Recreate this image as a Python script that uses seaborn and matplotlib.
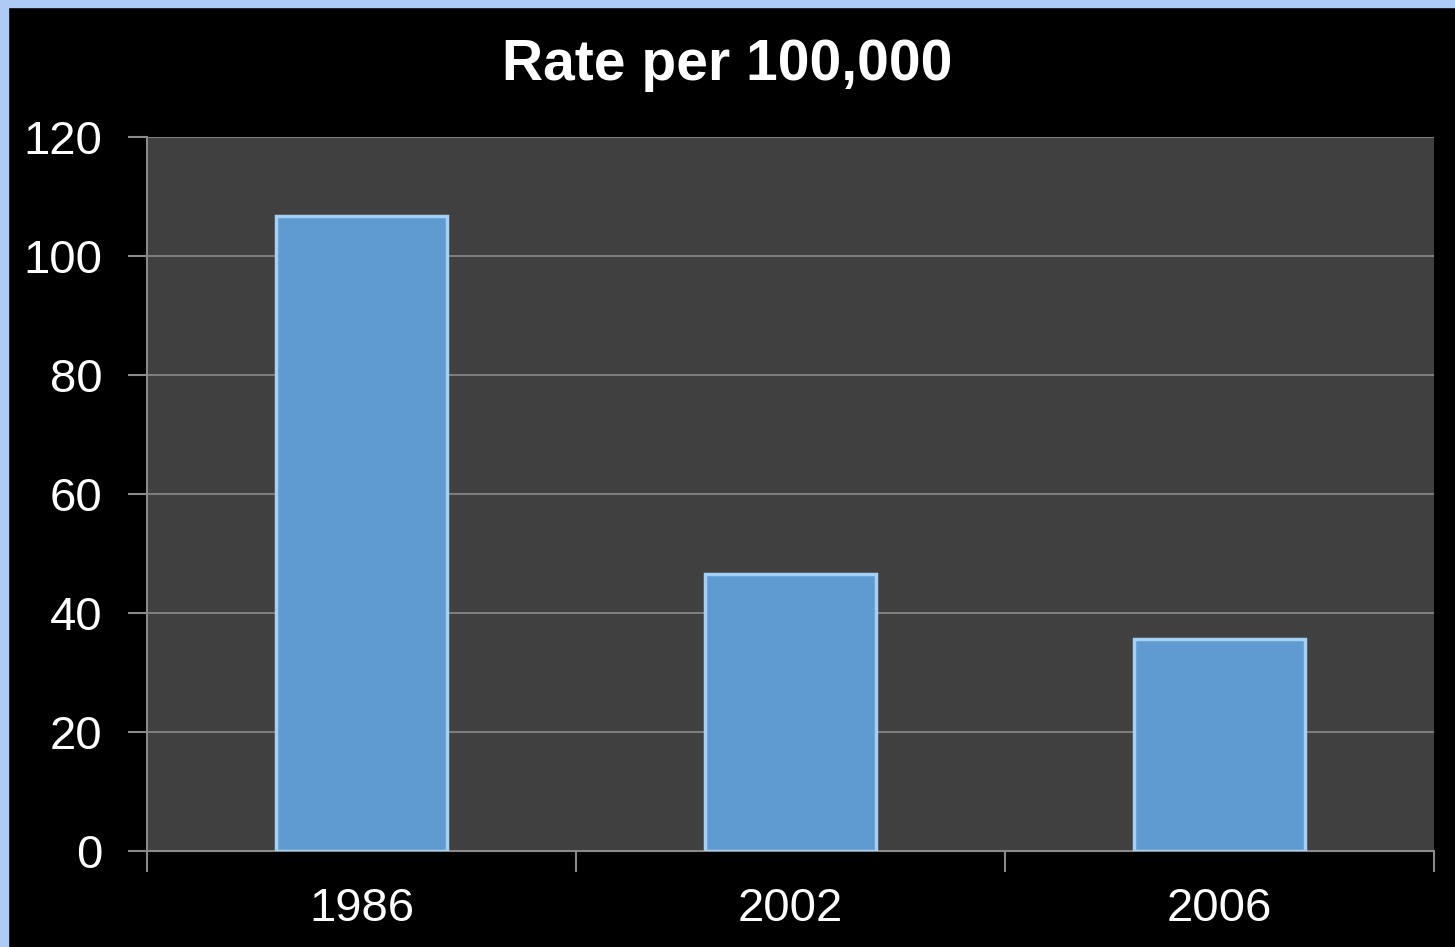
import matplotlib
matplotlib.use("Agg")
import matplotlib.pyplot as plt
import pandas as pd
import seaborn as sns
from matplotlib.patches import Rectangle

years = ["1986", "2002", "2006"]
rates = [106.8, 46.5, 35.6]
y_ticks = [0, 20, 40, 60, 80, 100, 120]

sns.set_style("dark")
plt.rcParams["font.family"] = ["Liberation Sans", "DejaVu Sans"]

df = pd.DataFrame({"year": years, "rate": rates})

fig = plt.figure(figsize=(14.55, 9.47), dpi=100, facecolor="black")
# light blue frame strips on top and left
fig.patches.append(Rectangle((0, 0), 0.0055, 1, transform=fig.transFigure, color="#AECBF5", zorder=0))
fig.patches.append(Rectangle((0, 0.9926), 1, 0.0074, transform=fig.transFigure, color="#AECBF5", zorder=0))

ax = fig.add_axes([0.101, 0.1014, 0.8845, 0.7539])
ax.set_facecolor("#404040")

sns.barplot(data=df, x="year", y="rate", ax=ax, color="#5F9BD0", width=0.4,
            edgecolor="#A5D0F5", linewidth=2.5, saturation=1, zorder=3)

ax.set_ylim(0, 120)
ax.set_xlim(-0.5, 2.5)
ax.set_yticks(y_ticks)
ax.grid(axis="y", color="#8A8A8A", linewidth=1.2, zorder=0)
ax.grid(axis="x", visible=False)
ax.set_axisbelow(True)

ax.set_xticks([-0.5, 0.5, 1.5, 2.5], minor=True)
ax.tick_params(axis="x", which="major", bottom=True, length=0, pad=26, labelsize=34, colors="white")
ax.tick_params(axis="x", which="minor", bottom=True, length=15, width=1.5, color="#8A8A8A")
ax.tick_params(axis="y", left=True, length=14, width=1.5, color="#8A8A8A", labelsize=34,
               labelcolor="white", pad=18)

for side in ["top", "right"]:
    ax.spines[side].set_visible(False)
for side in ["left", "bottom"]:
    ax.spines[side].set_color("#8A8A8A")
    ax.spines[side].set_linewidth(1.5)

ax.set_xlabel("")
ax.set_ylabel("")
fig.text(0.5, 0.931, "Rate per 100,000", ha="center", va="center",
         fontsize=41, fontweight="bold", color="white")

fig.savefig("out.png", dpi=100, facecolor="black")
